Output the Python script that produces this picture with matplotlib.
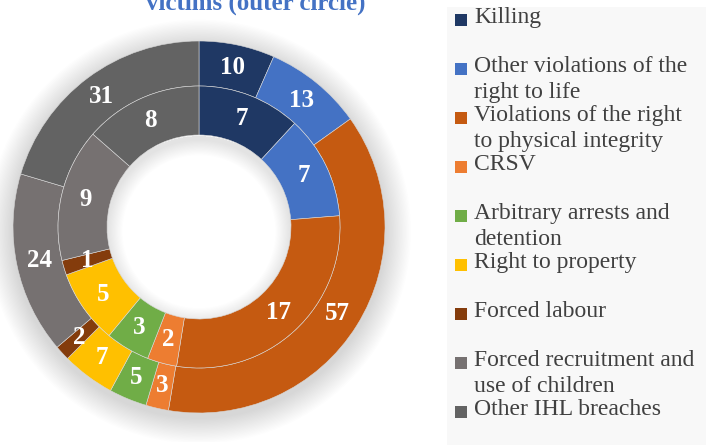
"""Nested donut: violations by category, inner and outer circle."""

import textwrap

import matplotlib

matplotlib.use("Agg")
import matplotlib.pyplot as plt
import numpy as np
from matplotlib.patches import Rectangle, Wedge

plt.rcParams["font.family"] = ["Liberation Serif", "DejaVu Serif"]

categories = [
    "Killing",
    "Other violations of the right to life",
    "Violations of the right to physical integrity",
    "CRSV",
    "Arbitrary arrests and detention",
    "Right to property",
    "Forced labour",
    "Forced recruitment and use of children",
    "Other IHL breaches",
]
outer_values = [10, 13, 57, 3, 5, 7, 2, 24, 31]
inner_values = [7, 7, 17, 2, 3, 5, 1, 9, 8]
colors = [
    "#1f3864", "#4472c4", "#c55a11", "#ed7d31", "#70ad47",
    "#ffc000", "#843c0c", "#767171", "#636363",
]
title = "victims (outer circle)"

W, H = 706, 445
fig = plt.figure(figsize=(W / 100, H / 100), dpi=100)

# donut geometry in pixels
cx, cy, R = 199, 227, 186
box = 215
ax = fig.add_axes([(cx - box) / W, (H - cy - box) / H, 2 * box / W, 2 * box / H])
lim = box / R

r_mid = 141 / R
r_in = 92 / R

# soft shadow round the ring and inside the hole
off = (0.0, -0.025)
for k in range(20):
    ax.add_patch(Wedge(off, 1.0 + 0.007 * (k + 1), 0, 360, width=0.007 * (k + 1) + 0.03,
                       facecolor="black", alpha=0.009, lw=0, zorder=0))
for k in range(14):
    ax.add_patch(Wedge(off, r_in + 0.02, 0, 360, width=0.006 * (k + 1) + 0.02,
                       facecolor="black", alpha=0.009, lw=0, zorder=0))

wp = dict(linewidth=0.4, edgecolor="#d8d8d8")
ax.pie(outer_values, radius=1.0, colors=colors, startangle=90, counterclock=False,
       wedgeprops=dict(width=1.0 - r_mid, **wp), frame=True)
ax.pie(inner_values, radius=r_mid, colors=colors, startangle=90, counterclock=False,
       wedgeprops=dict(width=r_mid - r_in, **wp), frame=True)
ax.set_xlim(-lim, lim)
ax.set_ylim(-lim, lim)
ax.axis("off")


def put_labels(values, radius):
    total = sum(values)
    start = 90.0
    for v in values:
        sweep = 360.0 * v / total
        mid = np.deg2rad(start - sweep / 2)
        ax.text(radius * np.cos(mid), radius * np.sin(mid), str(v), ha="center",
                va="center", color="white", fontsize=18, fontweight="bold", zorder=5)
        start -= sweep


put_labels(outer_values, 163 / R)
put_labels(inner_values, 117 / R)

fig.text(256 / W, 1 - 3 / H, title, ha="center", va="center", color="#4472c4",
         fontsize=18, fontweight="bold")

# legend panel
fig.patches.append(Rectangle((447 / W, 0), (W - 447) / W, (H - 7) / H,
                             transform=fig.transFigure, facecolor="#f8f8f8",
                             edgecolor="none", zorder=0))
slot0, slot = 20, 49
for i, (name, c) in enumerate(zip(categories, colors)):
    y = slot0 + slot * i
    fig.patches.append(Rectangle((455 / W, 1 - (y + 6) / H), 12 / W, 12 / H,
                                 transform=fig.transFigure, facecolor=c,
                                 edgecolor="none", zorder=2))
    fig.text(474 / W, 1 - (y - 13) / H, textwrap.fill(name, 23), ha="left", va="top",
             color="#404040", fontsize=17, linespacing=1.3)

fig.savefig("out.png", dpi=100)
